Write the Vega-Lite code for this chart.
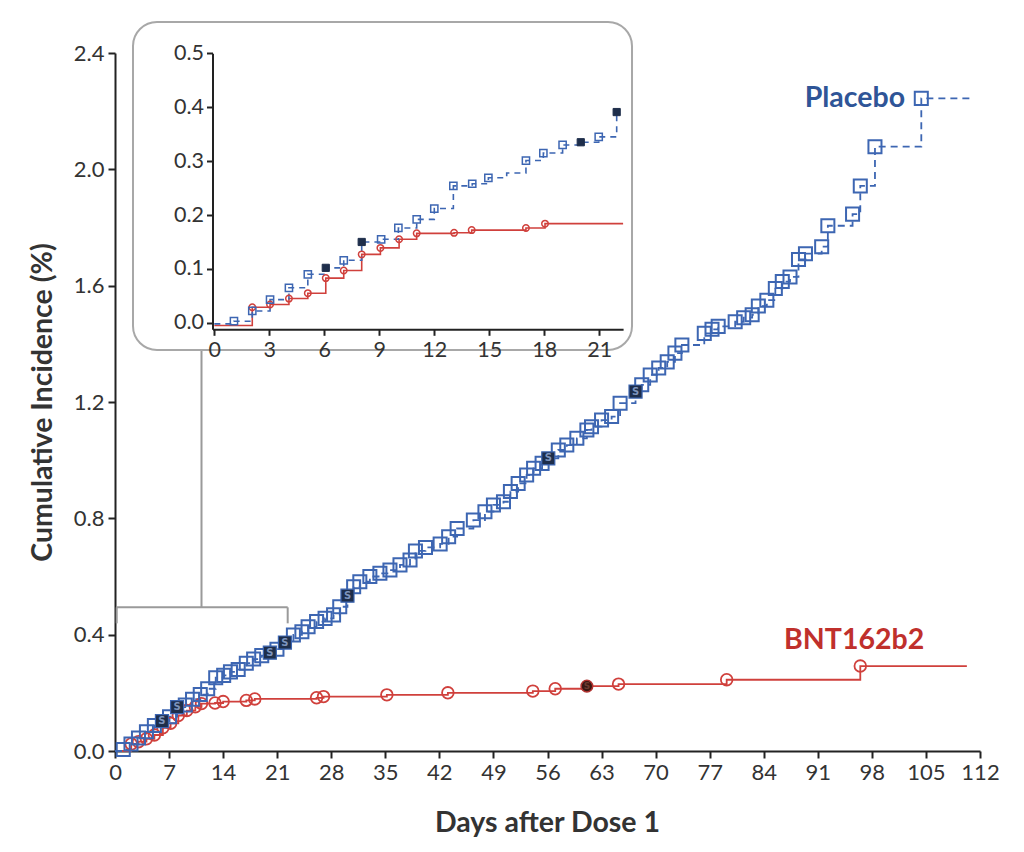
{
  "$schema": "https://vega.github.io/schema/vega-lite/v6.json",
  "autosize": "none",
  "width": 865,
  "height": 698,
  "padding": {"left": 115, "top": 53, "right": 44, "bottom": 101},
  "config": {"view": {"stroke": null}, "font": "Lato"},
  "datasets": {
    "placebo": [
      {"day": 0, "val": 0, "mark": "none"},
      {"day": 1.07, "val": 0.005, "mark": "open"},
      {"day": 2.07, "val": 0.024, "mark": "open"},
      {"day": 3.04, "val": 0.045, "mark": "open"},
      {"day": 4.07, "val": 0.066, "mark": "open"},
      {"day": 5.1, "val": 0.088, "mark": "open"},
      {"day": 6.08, "val": 0.103, "mark": "severe"},
      {"day": 7.06, "val": 0.118, "mark": "open"},
      {"day": 8.04, "val": 0.151, "mark": "severe"},
      {"day": 9.1, "val": 0.158, "mark": "open"},
      {"day": 10.04, "val": 0.178, "mark": "open"},
      {"day": 11.04, "val": 0.194, "mark": "open"},
      {"day": 12.0, "val": 0.214, "mark": "open"},
      {"day": 13.04, "val": 0.252, "mark": "open"},
      {"day": 14.07, "val": 0.26, "mark": "open"},
      {"day": 14.95, "val": 0.272, "mark": "open"},
      {"day": 15.95, "val": 0.28, "mark": "open"},
      {"day": 17.0, "val": 0.302, "mark": "open"},
      {"day": 17.95, "val": 0.316, "mark": "open"},
      {"day": 19.0, "val": 0.328, "mark": "open"},
      {"day": 20.05, "val": 0.338, "mark": "severe"},
      {"day": 20.97, "val": 0.35, "mark": "open"},
      {"day": 22.0, "val": 0.373, "mark": "severe"},
      {"day": 23.1, "val": 0.399, "mark": "open"},
      {"day": 24.2, "val": 0.41, "mark": "open"},
      {"day": 25.0, "val": 0.427, "mark": "open"},
      {"day": 26.1, "val": 0.445, "mark": "open"},
      {"day": 27.2, "val": 0.456, "mark": "open"},
      {"day": 28.3, "val": 0.468, "mark": "open"},
      {"day": 29.1, "val": 0.496, "mark": "open"},
      {"day": 30.1, "val": 0.534, "mark": "severe"},
      {"day": 30.9, "val": 0.565, "mark": "open"},
      {"day": 31.7, "val": 0.582, "mark": "open"},
      {"day": 33.0, "val": 0.6, "mark": "open"},
      {"day": 34.3, "val": 0.611, "mark": "open"},
      {"day": 35.6, "val": 0.622, "mark": "open"},
      {"day": 36.9, "val": 0.64, "mark": "open"},
      {"day": 38.2, "val": 0.657, "mark": "open"},
      {"day": 38.9, "val": 0.688, "mark": "open"},
      {"day": 40.2, "val": 0.7, "mark": "open"},
      {"day": 42.1, "val": 0.712, "mark": "open"},
      {"day": 43.2, "val": 0.737, "mark": "open"},
      {"day": 44.3, "val": 0.765, "mark": "open"},
      {"day": 46.4, "val": 0.794, "mark": "open"},
      {"day": 47.9, "val": 0.823, "mark": "open"},
      {"day": 49.0, "val": 0.846, "mark": "open"},
      {"day": 50.3, "val": 0.857, "mark": "open"},
      {"day": 51.2, "val": 0.892, "mark": "open"},
      {"day": 52.2, "val": 0.92, "mark": "open"},
      {"day": 53.3, "val": 0.949, "mark": "open"},
      {"day": 54.2, "val": 0.972, "mark": "open"},
      {"day": 55.3, "val": 0.989, "mark": "open"},
      {"day": 56.1, "val": 1.006, "mark": "severe"},
      {"day": 57.4, "val": 1.035, "mark": "open"},
      {"day": 58.5, "val": 1.052, "mark": "open"},
      {"day": 59.8, "val": 1.075, "mark": "open"},
      {"day": 61.1, "val": 1.104, "mark": "open"},
      {"day": 61.7, "val": 1.115, "mark": "open"},
      {"day": 63.0, "val": 1.138, "mark": "open"},
      {"day": 64.3, "val": 1.15, "mark": "open"},
      {"day": 65.4, "val": 1.196, "mark": "open"},
      {"day": 67.4, "val": 1.236, "mark": "severe"},
      {"day": 68.2, "val": 1.259, "mark": "open"},
      {"day": 69.3, "val": 1.293, "mark": "open"},
      {"day": 70.4, "val": 1.317, "mark": "open"},
      {"day": 71.5, "val": 1.338, "mark": "open"},
      {"day": 72.5, "val": 1.368, "mark": "open"},
      {"day": 73.4, "val": 1.396, "mark": "open"},
      {"day": 76.3, "val": 1.436, "mark": "open"},
      {"day": 77.3, "val": 1.45, "mark": "open"},
      {"day": 78.1, "val": 1.46, "mark": "open"},
      {"day": 80.3, "val": 1.476, "mark": "open"},
      {"day": 81.4, "val": 1.49, "mark": "open"},
      {"day": 82.5, "val": 1.5, "mark": "open"},
      {"day": 83.3, "val": 1.53, "mark": "open"},
      {"day": 84.4, "val": 1.55, "mark": "open"},
      {"day": 85.5, "val": 1.59, "mark": "open"},
      {"day": 86.4, "val": 1.614, "mark": "open"},
      {"day": 87.4, "val": 1.63, "mark": "open"},
      {"day": 88.5, "val": 1.69, "mark": "open"},
      {"day": 89.4, "val": 1.71, "mark": "open"},
      {"day": 91.5, "val": 1.734, "mark": "open"},
      {"day": 92.3, "val": 1.806, "mark": "open"},
      {"day": 95.5, "val": 1.846, "mark": "open"},
      {"day": 96.5, "val": 1.943, "mark": "open"},
      {"day": 98.4, "val": 2.078, "mark": "open"},
      {"day": 104.4, "val": 2.244, "mark": "open"},
      {"day": 110.7, "val": 2.244, "mark": "none"}
    ],
    "bnt": [
      {"day": 0, "val": 0, "mark": "none"},
      {"day": 2.1, "val": 0.024, "mark": "open"},
      {"day": 3.04, "val": 0.032, "mark": "open"},
      {"day": 4.07, "val": 0.042, "mark": "open"},
      {"day": 5.1, "val": 0.055, "mark": "open"},
      {"day": 6.2, "val": 0.08, "mark": "open"},
      {"day": 7.2, "val": 0.095, "mark": "open"},
      {"day": 8.2, "val": 0.122, "mark": "open"},
      {"day": 9.3, "val": 0.139, "mark": "open"},
      {"day": 10.4, "val": 0.152, "mark": "open"},
      {"day": 11.2, "val": 0.163, "mark": "open"},
      {"day": 12.95, "val": 0.165, "mark": "open"},
      {"day": 14.0, "val": 0.17, "mark": "open"},
      {"day": 17.0, "val": 0.174, "mark": "open"},
      {"day": 18.1, "val": 0.179, "mark": "open"},
      {"day": 26.1, "val": 0.183, "mark": "open"},
      {"day": 27.0, "val": 0.187, "mark": "open"},
      {"day": 35.2, "val": 0.193, "mark": "open"},
      {"day": 43.1, "val": 0.2, "mark": "open"},
      {"day": 54.1, "val": 0.206, "mark": "open"},
      {"day": 57.0, "val": 0.214, "mark": "open"},
      {"day": 61.1, "val": 0.223, "mark": "severe"},
      {"day": 65.2, "val": 0.23, "mark": "open"},
      {"day": 79.2, "val": 0.245, "mark": "open"},
      {"day": 96.5, "val": 0.292, "mark": "open"},
      {"day": 110.3, "val": 0.292, "mark": "none"}
    ],
    "placeboInset": [
      {"day": 0, "val": -0.002, "mark": "none"},
      {"day": 1.07, "val": 0.003, "mark": "open"},
      {"day": 2.07, "val": 0.022, "mark": "open"},
      {"day": 3.04, "val": 0.043, "mark": "open"},
      {"day": 4.07, "val": 0.065, "mark": "open"},
      {"day": 5.1, "val": 0.09, "mark": "open"},
      {"day": 6.08, "val": 0.102, "mark": "severe"},
      {"day": 7.06, "val": 0.116, "mark": "open"},
      {"day": 8.04, "val": 0.15, "mark": "severe"},
      {"day": 9.1, "val": 0.155, "mark": "open"},
      {"day": 10.04, "val": 0.176, "mark": "open"},
      {"day": 11.04, "val": 0.192, "mark": "open"},
      {"day": 12.0, "val": 0.212, "mark": "open"},
      {"day": 13.04, "val": 0.254, "mark": "open"},
      {"day": 14.07, "val": 0.258, "mark": "open"},
      {"day": 14.95, "val": 0.269, "mark": "open"},
      {"day": 15.95, "val": 0.278, "mark": "none"},
      {"day": 17.0, "val": 0.301, "mark": "open"},
      {"day": 17.95, "val": 0.315, "mark": "open"},
      {"day": 19.0, "val": 0.33, "mark": "open"},
      {"day": 19.99, "val": 0.335, "mark": "severe"},
      {"day": 20.97, "val": 0.345, "mark": "open"},
      {"day": 21.95, "val": 0.391, "mark": "severe"}
    ],
    "bntInset": [
      {"day": 0, "val": -0.005, "mark": "none"},
      {"day": 2.07, "val": 0.029, "mark": "open"},
      {"day": 3.04, "val": 0.034, "mark": "open"},
      {"day": 4.07, "val": 0.045, "mark": "open"},
      {"day": 5.1, "val": 0.055, "mark": "open"},
      {"day": 6.08, "val": 0.083, "mark": "open"},
      {"day": 7.06, "val": 0.097, "mark": "open"},
      {"day": 8.04, "val": 0.127, "mark": "open"},
      {"day": 9.06, "val": 0.139, "mark": "open"},
      {"day": 10.08, "val": 0.155, "mark": "open"},
      {"day": 11.04, "val": 0.166, "mark": "open"},
      {"day": 13.08, "val": 0.167, "mark": "open"},
      {"day": 14.04, "val": 0.172, "mark": "open"},
      {"day": 17.0, "val": 0.176, "mark": "open"},
      {"day": 18.04, "val": 0.184, "mark": "open"},
      {"day": 22.3, "val": 0.184, "mark": "none"}
    ],
    "leaders": [
      {"x": 0.22, "x2": 22.36, "y": 0.494, "y2": 0.494},
      {"x": 0.22, "x2": 0.22, "y": 0.494, "y2": 0.439},
      {"x": 22.36, "x2": 22.36, "y": 0.494, "y2": 0.439},
      {"x": 11.2, "x2": 11.2, "y": 0.494, "y2": 1.379}
    ],
    "labels": [
      {"day": 102.3, "val": 2.245, "label": "Placebo", "group": "Placebo"},
      {"day": 95.7, "val": 0.382, "label": "BNT162b2", "group": "BNT162b2"}
    ],
    "box": [
      {"x": -4.437, "x2": 22.786, "y": 0.558, "y2": -0.0504}
    ]
  },
  "resolve": {"scale": {"x": "independent", "y": "independent"}},
  "layer": [
    {
      "encoding": {
        "x": {"type": "quantitative", "scale": {"domain": [0, 112], "nice": false, "zero": false},
          "axis": {"values": [0, 7, 14, 21, 28, 35, 42, 49, 56, 63, 70, 77, 84, 91, 98, 105, 112],
            "orient": "bottom", "grid": false, "labelFontSize": 22, "labelColor": "#333", "labelFont": "Lato",
            "domainColor": "#222", "domainWidth": 2, "tickColor": "#222", "tickWidth": 2, "tickSize": 7,
            "labelPadding": 4, "labelFlush": false, "labelOverlap": false,
            "title": "Days after Dose 1", "titleFontSize": 28.5, "titleFontWeight": "bold", "titleColor": "#333",
            "titleX": 432, "titleY": 71, "titleBaseline": "middle", "titleAlign": "center"}},
        "y": {"type": "quantitative", "scale": {"domain": [0, 2.4], "nice": false, "zero": false},
          "axis": {"values": [0, 0.4, 0.8, 1.2, 1.6, 2.0, 2.4], "format": ".1f", "orient": "left", "grid": false,
            "labelFontSize": 22, "labelColor": "#333", "domainColor": "#222", "domainWidth": 2,
            "tickColor": "#222", "tickWidth": 2, "tickSize": 7, "labelPadding": 4, "labelFlush": false,
            "title": "Cumulative Incidence (%)", "titleFontSize": 28.5, "titleFontWeight": "bold", "titleColor": "#333",
            "titleX": -73, "titleY": 349, "titleAngle": -90, "titleBaseline": "middle", "titleAlign": "center"}}
      },
      "layer": [
        {
          "data": {"name": "leaders"},
          "mark": {"type": "rule", "color": "#9a9a9a", "strokeWidth": 2},
          "encoding": {"x": {"field": "x"}, "x2": {"field": "x2"}, "y": {"field": "y"}, "y2": {"field": "y2"}}
        },
        {
          "data": {"name": "bnt"},
          "mark": {"type": "line", "interpolate": "step-after", "color": "#d0403c", "strokeWidth": 1.8},
          "encoding": {"x": {"field": "day"}, "y": {"field": "val"}}
        },
        {
          "data": {"name": "placebo"},
          "mark": {"type": "line", "interpolate": "step-after", "color": "#3d66b2", "strokeWidth": 1.8, "strokeDash": [7, 5]},
          "encoding": {"x": {"field": "day"}, "y": {"field": "val"}}
        },
        {
          "data": {"name": "bnt"},
          "transform": [{"filter": "datum.mark == 'open'"}],
          "mark": {"type": "point", "shape": "circle", "filled": false, "size": 135, "stroke": "#d0403c", "strokeWidth": 1.8, "opacity": 1},
          "encoding": {"x": {"field": "day"}, "y": {"field": "val"}}
        },
        {
          "data": {"name": "bnt"},
          "transform": [{"filter": "datum.mark == 'severe'"}],
          "mark": {"type": "point", "shape": "circle", "filled": true, "size": 135, "fill": "#3a1712", "stroke": "#b03330", "strokeWidth": 1.5, "opacity": 1},
          "encoding": {"x": {"field": "day"}, "y": {"field": "val"}}
        },
        {
          "data": {"name": "placebo"},
          "transform": [{"filter": "datum.mark == 'open'"}],
          "mark": {"type": "point", "shape": "square", "filled": false, "size": 170, "stroke": "#3d66b2", "strokeWidth": 2, "opacity": 1},
          "encoding": {"x": {"field": "day"}, "y": {"field": "val"}}
        },
        {
          "data": {"name": "placebo"},
          "transform": [{"filter": "datum.mark == 'severe'"}],
          "mark": {"type": "point", "shape": "square", "filled": true, "size": 170, "fill": "#1e2e4b", "stroke": "#3d66b2", "strokeWidth": 1.2, "opacity": 1},
          "encoding": {"x": {"field": "day"}, "y": {"field": "val"}}
        },
        {
          "data": {"name": "placebo"},
          "transform": [{"filter": "datum.mark == 'severe'"}],
          "mark": {"type": "text", "text": "S", "fontSize": 10, "fontWeight": "bold", "color": "#7d94bd", "align": "center", "baseline": "middle", "font": "DejaVu Sans"},
          "encoding": {"x": {"field": "day"}, "y": {"field": "val"}}
        },
        {
          "data": {"name": "bnt"},
          "transform": [{"filter": "datum.mark == 'severe'"}],
          "mark": {"type": "text", "text": "S", "fontSize": 9, "fontWeight": "bold", "color": "#6b3a30", "align": "center", "baseline": "middle", "font": "DejaVu Sans"},
          "encoding": {"x": {"field": "day"}, "y": {"field": "val"}}
        },
        {
          "data": {"name": "labels"},
          "transform": [{"filter": "datum.group == 'Placebo'"}],
          "mark": {"type": "text", "fontSize": 28.5, "fontWeight": "bold", "color": "#2f5597", "align": "right", "baseline": "middle"},
          "encoding": {"x": {"field": "day"}, "y": {"field": "val"}, "text": {"field": "label"}}
        },
        {
          "data": {"name": "labels"},
          "transform": [{"filter": "datum.group == 'BNT162b2'"}],
          "mark": {"type": "text", "fontSize": 28.5, "fontWeight": "bold", "color": "#c0302c", "align": "center", "baseline": "middle"},
          "encoding": {"x": {"field": "day"}, "y": {"field": "val"}, "text": {"field": "label"}}
        }
      ]
    },
    {
      "encoding": {
        "x": {"type": "quantitative", "scale": {"domain": [-0.1, 22.3], "range": [97.5, 508.1], "nice": false, "zero": false},
          "axis": {"values": [0, 3, 6, 9, 12, 15, 18, 21], "orient": "bottom", "offset": -421.7, "grid": false,
            "labelFontSize": 21.5, "labelColor": "#333", "domainColor": "#222", "domainWidth": 2,
            "tickColor": "#222", "tickWidth": 2, "tickSize": 6, "labelPadding": 4, "labelFlush": false, "title": null, "zindex": 1}},
        "y": {"type": "quantitative", "scale": {"domain": [-0.012, 0.5], "range": [276.3, 0.3], "nice": false, "zero": false},
          "axis": {"values": [0, 0.1, 0.2, 0.3, 0.4, 0.5], "format": ".1f", "orient": "left", "offset": -97.5, "grid": false,
            "labelFontSize": 21.5, "labelColor": "#333", "domainColor": "#222", "domainWidth": 2,
            "tickColor": "#222", "tickWidth": 2, "tickSize": 6, "labelPadding": 3, "labelFlush": false, "title": null, "zindex": 1}}
      },
      "layer": [
        {
          "data": {"name": "box"},
          "mark": {"type": "rect", "fill": "white", "fillOpacity": 0, "stroke": "#a8a8a8", "strokeWidth": 2, "cornerRadius": 24},
          "encoding": {"x": {"field": "x"}, "x2": {"field": "x2"}, "y": {"field": "y"}, "y2": {"field": "y2"}}
        },
        {
          "data": {"name": "bntInset"},
          "mark": {"type": "line", "interpolate": "step-after", "color": "#d0403c", "strokeWidth": 1.6},
          "encoding": {"x": {"field": "day"}, "y": {"field": "val"}}
        },
        {
          "data": {"name": "placeboInset"},
          "mark": {"type": "line", "interpolate": "step-after", "color": "#3d66b2", "strokeWidth": 1.6, "strokeDash": [6, 5]},
          "encoding": {"x": {"field": "day"}, "y": {"field": "val"}}
        },
        {
          "data": {"name": "bntInset"},
          "transform": [{"filter": "datum.mark == 'open'"}],
          "mark": {"type": "point", "shape": "circle", "filled": false, "size": 42, "stroke": "#d0403c", "strokeWidth": 1.5, "opacity": 1},
          "encoding": {"x": {"field": "day"}, "y": {"field": "val"}}
        },
        {
          "data": {"name": "placeboInset"},
          "transform": [{"filter": "datum.mark == 'open'"}],
          "mark": {"type": "point", "shape": "square", "filled": false, "size": 52, "stroke": "#3d66b2", "strokeWidth": 1.5, "opacity": 1},
          "encoding": {"x": {"field": "day"}, "y": {"field": "val"}}
        },
        {
          "data": {"name": "placeboInset"},
          "transform": [{"filter": "datum.mark == 'severe'"}],
          "mark": {"type": "point", "shape": "square", "filled": true, "size": 52, "fill": "#1e2e4b", "stroke": "#1e2e4b", "strokeWidth": 1, "opacity": 1},
          "encoding": {"x": {"field": "day"}, "y": {"field": "val"}}
        }
      ]
    }
  ]
}
